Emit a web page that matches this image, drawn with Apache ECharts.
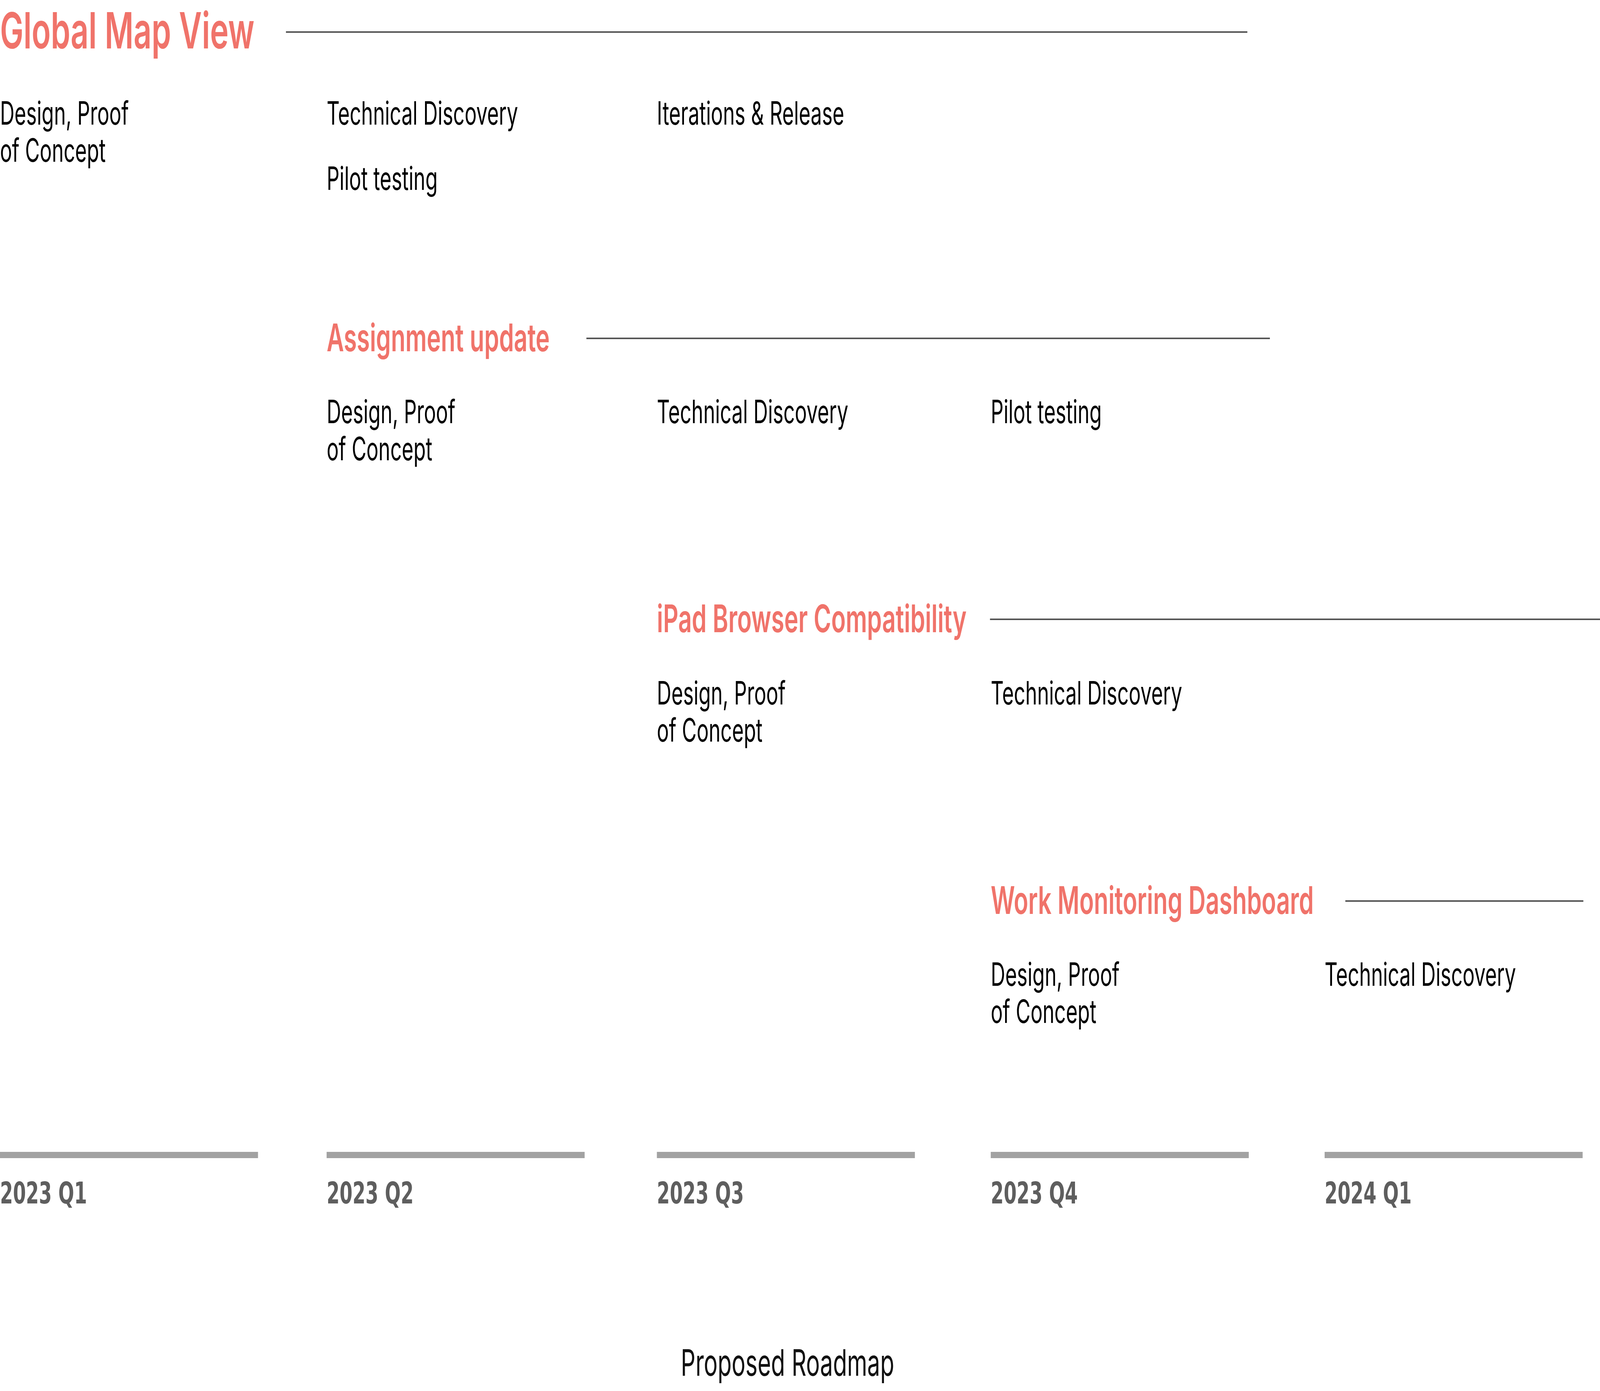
<!DOCTYPE html>
<html>
<head>
<meta charset="utf-8">
<title>Proposed Roadmap</title>
<script src="https://cdn.jsdelivr.net/npm/echarts@6/dist/echarts.min.js"></script>
<style>
  html, body { margin: 0; padding: 0; background: #ffffff; overflow: hidden; }
  #chart { width: 100vw; height: 100vh; }
</style>
</head>
<body>
<div id="chart"></div>
<script>
// ---------------- data ----------------
const quarterLabels = ['2023 Q1', '2023 Q2', '2023 Q3', '2023 Q4', '2024 Q1'];
const quarterStarts = ['2023-01-01', '2023-04-01', '2023-07-01', '2023-10-01', '2024-01-01'];

const projectNames = ['Global Map View', 'Assignment update', 'iPad Browser Compatibility', 'Work Monitoring Dashboard'];
const projectStartQuarter = [0, 1, 2, 3];
const projectRows = [0.82, 8.66, 15.85, 23.06];

const ruleStarts = ['2023-03-20T19:00', '2023-06-11T14:00', '2023-09-30T19:00', '2024-01-06T17:00'];
const ruleEnds   = ['2023-12-10T17:00', '2023-12-16T22:00', '2024-03-31T00:00', '2024-03-12T07:00'];

const taskNames = [
  'Design, Proof\nof Concept', 'Technical Discovery', 'Pilot testing', 'Iterations & Release',
  'Design, Proof\nof Concept', 'Technical Discovery', 'Pilot testing',
  'Design, Proof\nof Concept', 'Technical Discovery',
  'Design, Proof\nof Concept', 'Technical Discovery'
];
const taskQuarters = [0, 1, 1, 2, 1, 2, 3, 2, 3, 3, 4];
const taskRows = [2.94, 2.94, 4.61, 2.94, 10.58, 10.58, 10.58, 17.78, 17.78, 24.98, 24.98];

const timelineRow = 29.56;
const quarterLabelRow = 30.60;

// ---------------- styles (design pixels of a 6536 x 3560 frame) ----------------
const W = window.innerWidth || 6536;
const H = window.innerHeight || 3560;
const SX = W / 6536;
const SY = H / 3560;

const ACCENT = '#F0736A';
const RULE_COLOR = '#555555';
const BAR_COLOR = '#a2a2a2';
const QLABEL_COLOR = '#5e5e5e';
const TASK_FONT = 82;
const TASK_LINE_H = 95;
const titleSizes = [128, 97, 97, 97];
const TITLE_DY = 4;
const BAR_PX = 1054;
const BAR_H = 16;
const RULE_W = 4;
const QLABEL_FONT = 76;

function T(s) {
  const parts = s.split('T');
  const d = parts[0].split('-').map(Number);
  const t = (parts[1] || '00:00').split(':').map(Number);
  return new Date(d[0], d[1] - 1, d[2], t[0], t[1]).getTime();
}
const DAY = 86400000;
const X_MIN = T('2023-01-01');
const X_MAX = X_MIN + 440.88 * DAY;

const chart = echarts.init(document.getElementById('chart'), null, { renderer: 'canvas' });

const option = {
  animation: false,
  backgroundColor: '#ffffff',
  graphic: {
    elements: [{
      type: 'text',
      x: 2781 * SX,
      y: 3493 * SY,
      scaleX: SX,
      scaleY: SY,
      style: {
        text: 'Proposed Roadmap',
        fontFamily: 'Inter',
        fontSize: 94,
        fontWeight: 400,
        fill: '#111111',
        align: 'left',
        verticalAlign: 'middle'
      }
    }]
  },
  grid: { left: 0, right: 0, top: 0, bottom: 0, containLabel: false },
  xAxis: { type: 'time', min: X_MIN, max: X_MAX, show: false },
  yAxis: { type: 'value', inverse: true, min: 0, max: 35.6, show: false },
  series: [
    {
      name: 'Project rules',
      type: 'custom',
      coordinateSystem: 'cartesian2d',
      encode: { x: [0, 1], y: 2 },
      data: projectNames.map((n, i) => [T(ruleStarts[i]), T(ruleEnds[i]), projectRows[i]]),
      renderItem: function (params, api) {
        const a = api.coord([api.value(0), api.value(2)]);
        const b = api.coord([api.value(1), api.value(2)]);
        return {
          type: 'line',
          shape: { x1: a[0], y1: a[1], x2: b[0], y2: b[1] },
          style: { stroke: RULE_COLOR, lineWidth: RULE_W * SY }
        };
      }
    },
    {
      name: 'Projects',
      type: 'custom',
      coordinateSystem: 'cartesian2d',
      encode: { x: 0, y: 1 },
      data: projectNames.map((n, i) => [T(quarterStarts[projectStartQuarter[i]]), projectRows[i]]),
      renderItem: function (params, api) {
        const i = params.dataIndex;
        const p = api.coord([api.value(0), api.value(1)]);
        return {
          type: 'text',
          x: p[0], y: p[1] + TITLE_DY * SY,
          scaleX: SX, scaleY: SY,
          style: {
            text: projectNames[i],
            fill: ACCENT,
            fontFamily: 'Inter',
            fontWeight: 600,
            fontSize: titleSizes[i],
            align: 'left',
            verticalAlign: 'middle'
          }
        };
      }
    },
    {
      name: 'Tasks',
      type: 'custom',
      coordinateSystem: 'cartesian2d',
      encode: { x: 0, y: 1 },
      data: taskNames.map((n, i) => [T(quarterStarts[taskQuarters[i]]), taskRows[i]]),
      renderItem: function (params, api) {
        const i = params.dataIndex;
        const p = api.coord([api.value(0), api.value(1)]);
        return {
          type: 'text',
          x: p[0], y: p[1] - (TASK_LINE_H / 2) * SY,
          scaleX: SX, scaleY: SY,
          style: {
            text: taskNames[i],
            fill: '#000000',
            fontFamily: 'Inter',
            fontWeight: 400,
            fontSize: TASK_FONT,
            lineHeight: TASK_LINE_H,
            align: 'left',
            verticalAlign: 'top'
          }
        };
      }
    },
    {
      name: 'Timeline',
      type: 'custom',
      coordinateSystem: 'cartesian2d',
      encode: { x: 0, y: 1 },
      data: quarterStarts.map(q => [T(q), timelineRow]),
      renderItem: function (params, api) {
        const p = api.coord([api.value(0), api.value(1)]);
        return {
          type: 'rect',
          shape: { x: p[0], y: p[1] - (BAR_H / 2) * SY, width: BAR_PX * SX, height: BAR_H * SY },
          style: { fill: BAR_COLOR }
        };
      }
    },
    {
      name: 'Quarter labels',
      type: 'custom',
      coordinateSystem: 'cartesian2d',
      encode: { x: 0, y: 1 },
      data: quarterStarts.map(q => [T(q), quarterLabelRow]),
      renderItem: function (params, api) {
        const i = params.dataIndex;
        const p = api.coord([api.value(0), api.value(1)]);
        return {
          type: 'text',
          x: p[0], y: p[1],
          scaleX: SX, scaleY: SY,
          style: {
            text: quarterLabels[i],
            fill: QLABEL_COLOR,
            fontFamily: 'DejaVu Sans',
            fontWeight: 700,
            fontSize: QLABEL_FONT,
            align: 'left',
            verticalAlign: 'middle'
          }
        };
      }
    }
  ]
};

chart.setOption(option);
window.addEventListener('resize', function () { chart.resize(); });
</script>
</body>
</html>
